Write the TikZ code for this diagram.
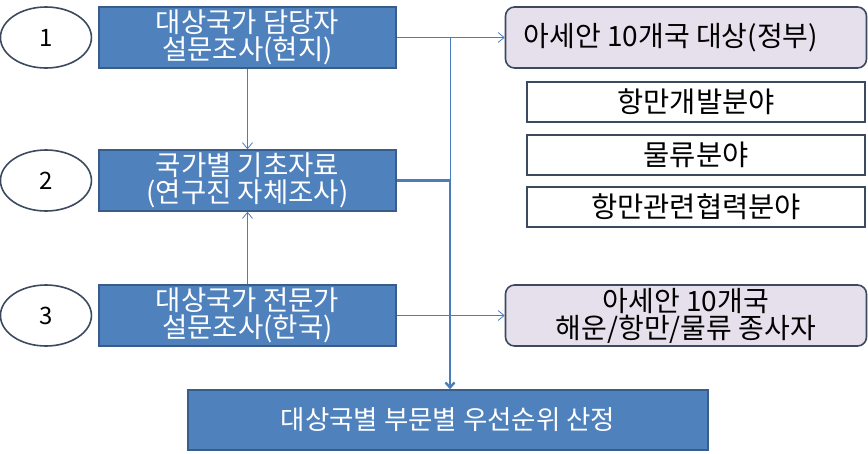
\documentclass[tikz,border=0pt]{standalone}
\usepackage{fontspec}
\setmainfont{Noto Sans CJK KR}
\usepackage{tikz}
\usetikzlibrary{positioning,shapes.geometric,arrows.meta}
\definecolor{boxfill}{RGB}{79,129,189}
\definecolor{boxedge}{RGB}{56,93,138}
\definecolor{darkedge}{RGB}{60,74,96}
\definecolor{lavender}{RGB}{230,224,236}
\definecolor{linkblue}{RGB}{74,126,187}
\tikzset{
  bluebox/.style={draw=boxedge, line width=1.5pt, fill=boxfill, text=white, align=center,
    minimum width=297pt, minimum height=61pt, inner sep=0pt, font=\fontsize{27.5}{27}\selectfont},
  numoval/.style={ellipse, draw=darkedge, line width=1.6pt, minimum width=91pt, minimum height=61pt,
    inner sep=0pt, font=\fontsize{24}{25}\selectfont},
  targetbox/.style={draw=darkedge, line width=1.6pt, fill=lavender, rounded corners=9pt, align=center,
    minimum width=361pt, minimum height=61pt, inner sep=0pt, font=\fontsize{28}{27}\selectfont},
  fieldbox/.style={draw=darkedge, line width=1.6pt, fill=white, minimum width=338pt, minimum height=40pt,
    inner sep=0pt, font=\fontsize{28.5}{27}\selectfont},
  thinlink/.style={draw=linkblue, line width=0.8pt},
  thicklink/.style={draw=linkblue, line width=2.4pt}
}
\begin{document}
\begin{tikzpicture}[x=1pt,y=-1pt]
\useasboundingbox (0,0) rectangle (868,453);
% survey steps
\node[bluebox] (b1) at (247.5,37.5) {대상국가 담당자\\설문조사(현지)};
\node[bluebox, below=80.5pt of b1] (b2) {국가별 기초자료\\(연구진 자체조사)};
\node[bluebox, below=72.5pt of b2] (b3) {대상국가 전문가\\설문조사(한국)};
\node[numoval, left=6pt of b1] (o1) {1}; \node[numoval, left=6pt of b2] (o2) {2}; \node[numoval, left=6pt of b3] (o3) {3};

% targets
\node[targetbox] (r1) at (686,37.5) {아세안 10개국 대상(정부)\hspace*{30pt}};
\node[fieldbox] (w1) at (696,102) {항만개발분야};
\node[fieldbox, below=11.5pt of w1] (w2) {물류분야};
\node[fieldbox, below=10.5pt of w2] (w3) {항만관련협력분야};
\node[targetbox] (r2) at (686,315.5) {아세안 10개국\\해운/항만/물류 종사자};

\node[bluebox, minimum width=520pt, minimum height=60pt, font=\fontsize{26.5}{27}\selectfont] (fin) at (448,420) {대상국별 부문별 우선순위 산정};

\coordinate (j1) at (450,37.5); \coordinate (j2) at (b2.east -| j1);
\draw[thinlink, -{Straight Barb[length=6pt,width=10pt]}] (b1.east) -- (r1.west);
\draw[thinlink, -{Straight Barb[length=6pt,width=10pt]}] (b3.east) -- (r2.west);
\draw[thinlink, -{Straight Barb[length=6pt,width=10pt]}] (b1.south) -- (b2.north);
\draw[thinlink, -{Straight Barb[length=6pt,width=10pt]}] (b3.north) -- (b2.south);
\draw[thinlink] (j1) -- (j2);
\draw[thicklink] (b2.east) -- (j2);
\draw[thicklink, -{Straight Barb[length=5pt,width=9pt]}] (j2) -- (j2 |- fin.north);
\end{tikzpicture}
\end{document}
